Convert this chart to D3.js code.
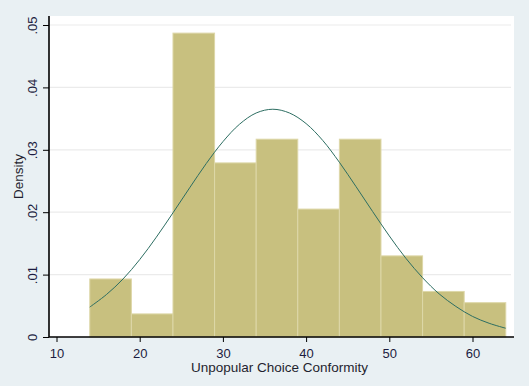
<!DOCTYPE html>
<html>
<head>
<meta charset="utf-8">
<script src="https://cdn.jsdelivr.net/npm/d3@7"></script>
<style>
  html, body { margin: 0; padding: 0; background: #e9f0f3; }
  svg { display: block; font-family: 'Liberation Sans', Arial, sans-serif; }
  .axis path, .axis line { stroke: #000; }
  .tick-label { fill: #1c1c40; font-size: 13px; }
  .axis-label { fill: #1f1f2f; font-size: 13.5px; }
</style>
</head>
<body>
<div id="chart"></div>
<script>
'use strict';

// histogram bins (lower edge, upper edge) and density heights
var binStarts = [ 14, 19, 24, 29, 34, 39, 44, 49, 54, 59 ];
var binEnds = [ 19, 24, 29, 34, 39, 44, 49, 54, 59, 64 ];
var densities = [ 0.0093, 0.0037, 0.0487, 0.0279, 0.0317, 0.0205, 0.0317, 0.0130, 0.0073, 0.0055 ];

// normal density overlay
var curveX = [ 14, 16, 18, 20, 22, 24, 26, 28, 30, 32, 34, 36, 38, 40, 42, 44, 46, 48, 50, 52, 54, 56, 58, 60, 62, 64 ];
var curveY = [ 0.0048, 0.0068, 0.0093, 0.0124, 0.0160, 0.0199, 0.0239, 0.0278, 0.0313, 0.0341, 0.0359, 0.0365,
  0.0359, 0.0342, 0.0315, 0.0280, 0.0241, 0.0201, 0.0162, 0.0126, 0.0095, 0.0069, 0.0049, 0.0033, 0.0022, 0.0014 ];

var xTicks = [ 10, 20, 30, 40, 50, 60 ];
var yTicks = [ 0, 0.01, 0.02, 0.03, 0.04, 0.05 ];
var yTickLabels = [ '0', '.01', '.02', '.03', '.04', '.05' ];
var xTitle = 'Unpopular Choice Conformity';
var yTitle = 'Density';

var width = 529,
    height = 386,
    plot = { left: 49, right: 514, top: 16, bottom: 337 };

var x = d3.scaleLinear()
    .domain( [ 10, 60 ] )
    .range( [ 56.5, 472.5 ] );

var y = d3.scaleLinear()
    .domain( [ 0, 0.05 ] )
    .range( [ 337, 25 ] );

var svg = d3.select( '#chart' )
  .append( 'svg' )
    .attr( 'width', width )
    .attr( 'height', height );

svg.append( 'rect' )
    .attr( 'width', width )
    .attr( 'height', height )
    .attr( 'fill', '#e9f0f3' );

// white plot region
svg.append( 'rect' )
    .attr( 'x', plot.left )
    .attr( 'y', plot.top )
    .attr( 'width', plot.right - plot.left )
    .attr( 'height', plot.bottom - plot.top )
    .attr( 'fill', '#fff' );

// grid lines
svg.append( 'g' )
  .selectAll( 'line' )
  .data( yTicks.slice( 1 ) )
  .enter()
  .append( 'line' )
    .attr( 'x1', plot.left )
    .attr( 'x2', plot.right - 3 )
    .attr( 'y1', function( d ) { return y( d ); } )
    .attr( 'y2', function( d ) { return y( d ); } )
    .attr( 'stroke', '#ebebeb' )
    .attr( 'stroke-width', 1.2 );

// bars
svg.append( 'g' )
  .selectAll( 'rect' )
  .data( densities )
  .enter()
  .append( 'rect' )
    .attr( 'x', function( d, i ) { return x( binStarts[i] ); } )
    .attr( 'y', function( d ) { return y( d ); } )
    .attr( 'width', function( d, i ) { return x( binEnds[i] ) - x( binStarts[i] ); } )
    .attr( 'height', function( d ) { return y( 0 ) - y( d ); } )
    .attr( 'fill', '#c8c07f' )
    .attr( 'stroke', '#ddd7a8' )
    .attr( 'stroke-width', 1 );

// normal curve
var line = d3.line()
    .x( function( d, i ) { return x( curveX[i] ); } )
    .y( function( d ) { return y( d ); } )
    .curve( d3.curveCatmullRom );

svg.append( 'path' )
    .attr( 'd', line( curveY ) )
    .attr( 'fill', 'none' )
    .attr( 'stroke', '#2d6e62' )
    .attr( 'stroke-width', 1 );

// x axis
var xAxis = svg.append( 'g' )
    .classed( 'axis axis__x', true )
    .attr( 'transform', 'translate(0,' + plot.bottom + ')' )
    .call( d3.axisBottom( x )
      .tickValues( xTicks )
      .tickSize( 5 )
      .tickSizeOuter( 0 )
      .tickFormat( function() { return ''; } )
    );

xAxis.select( '.domain' )
    .attr( 'd', 'M' + plot.left + ',0H' + plot.right )
    .attr( 'stroke-width', 1.6 );

xAxis.selectAll( '.tick' )
  .append( 'text' )
    .classed( 'tick-label', true )
    .attr( 'text-anchor', 'middle' )
    .attr( 'y', 21 )
    .text( function( d ) { return d; } );

// y axis
var yAxis = svg.append( 'g' )
    .classed( 'axis axis__y', true )
    .attr( 'transform', 'translate(' + plot.left + ',0)' )
    .call( d3.axisLeft( y )
      .tickValues( yTicks )
      .tickSize( 6 )
      .tickSizeOuter( 0 )
      .tickFormat( function() { return ''; } )
    );

yAxis.select( '.domain' )
    .attr( 'd', 'M0,' + plot.top + 'V' + plot.bottom )
    .attr( 'stroke-width', 1.6 );

yAxis.selectAll( '.tick' )
  .append( 'text' )
    .classed( 'tick-label', true )
    .attr( 'text-anchor', 'middle' )
    .attr( 'transform', 'translate(-12,0) rotate(-90)' )
    .text( function( d, i ) { return yTickLabels[i]; } );

// axis titles
svg.append( 'text' )
    .classed( 'axis-label', true )
    .attr( 'text-anchor', 'middle' )
    .attr( 'x', ( plot.left + plot.right ) / 2 - 2 )
    .attr( 'y', 372 )
    .text( xTitle );

svg.append( 'text' )
    .classed( 'axis-label', true )
    .attr( 'text-anchor', 'middle' )
    .attr( 'transform', 'translate(23,' + ( ( plot.top + plot.bottom ) / 2 ) + ') rotate(-90)' )
    .text( yTitle );
</script>
</body>
</html>
